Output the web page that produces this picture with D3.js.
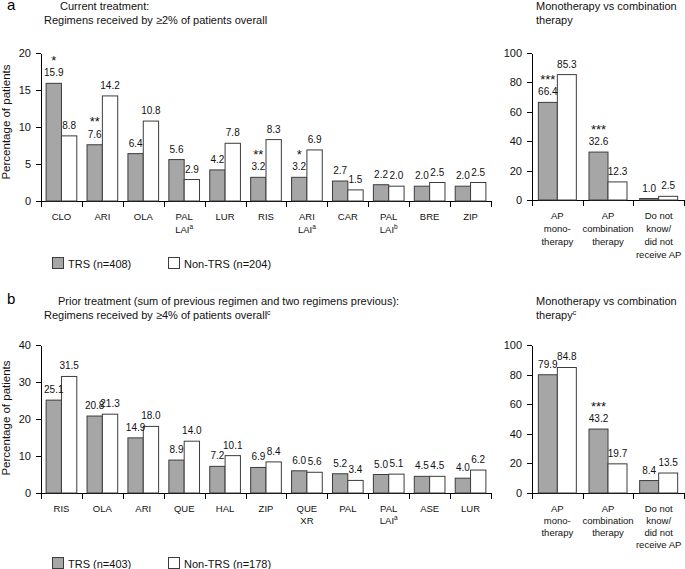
<!DOCTYPE html>
<html>
<head>
<meta charset="utf-8">
<script src="https://cdn.jsdelivr.net/npm/d3@7"></script>
<style>
  body { margin: 0; background: #fff; }
  svg { display: block; font-family: "Liberation Sans", Arial, sans-serif; }
  .axis path, .axis line { stroke: #000; shape-rendering: crispEdges; }
  .axis text { font-size: 11px; fill: #111; }
</style>
</head>
<body>
<svg id="chart" width="685" height="569"></svg>
<script>
'use strict';

// panel a: current treatment
var curCats = ['CLO', 'ARI', 'OLA', 'PAL|LAI^a', 'LUR', 'RIS', 'ARI|LAI^a', 'CAR', 'PAL|LAI^b', 'BRE', 'ZIP'];
var curTrs = [15.9, 7.6, 6.4, 5.6, 4.2, 3.2, 3.2, 2.7, 2.2, 2.0, 2.0];
var curNon = [8.8, 14.2, 10.8, 2.9, 7.8, 8.3, 6.9, 1.5, 2.0, 2.5, 2.5];
var curStars = ['*', '**', '', '', '', '**', '*', '', '', '', ''];

var comboCats = ['AP|mono-|therapy', 'AP|combination|therapy', 'Do not|know/|did not|receive AP'];
var curComboTrs = [66.4, 32.6, 1.0];
var curComboNon = [85.3, 12.3, 2.5];
var curComboStars = ['***', '***', ''];

// panel b: prior treatment
var priorCats = ['RIS', 'OLA', 'ARI', 'QUE', 'HAL', 'ZIP', 'QUE|XR', 'PAL', 'PAL|LAI^a', 'ASE', 'LUR'];
var priorTrs = [25.1, 20.8, 14.9, 8.9, 7.2, 6.9, 6.0, 5.2, 5.0, 4.5, 4.0];
var priorNon = [31.5, 21.3, 18.0, 14.0, 10.1, 8.4, 5.6, 3.4, 5.1, 4.5, 6.2];
var priorStars = ['', '', '', '', '', '', '', '', '', '', ''];

var priorComboTrs = [79.9, 43.2, 8.4];
var priorComboNon = [84.8, 19.7, 13.5];
var priorComboStars = ['', '***', ''];

var legendA = ['TRS (n=408)', 'Non-TRS (n=204)'];
var legendB = ['TRS (n=403)', 'Non-TRS (n=178)'];

var GRAY = '#a6a6a6';
var EDGE = '#3c3c3c';

var svg = d3.select('#chart');

/**
 * Write a text line that may carry a ^superscript.
 */
function richText(sel, str, supSize) {
	var parts = str.split('^');
	sel.append('tspan').text(parts[0]);
	if (parts.length > 1) {
		sel.append('tspan')
			.attr('dy', -4)
			.attr('font-size', supSize)
			.text(parts[1]);
	}
	return sel;
}

/**
 * Draw one grouped bar panel.
 */
function drawPanel(p) {
	var g = svg.append('g');
	var n = p.cats.length;

	var y = d3.scaleLinear().domain([0, p.max]).range([p.bottom, p.top]);
	var x = d3.scaleBand().domain(d3.range(n)).range([p.left, p.right]).padding(0);
	var edge = d3.scaleLinear().domain([0, n]).range([p.left, p.right]);
	var bw = x.bandwidth() * 0.375;
	var off = (x.bandwidth() - 2 * bw) / 2;

	// y axis
	g.append('g')
		.attr('class', 'axis')
		.attr('transform', 'translate(' + p.left + ',0)')
		.call(d3.axisLeft(y).tickValues(d3.range(0, p.max + 1, p.step))
			.tickSize(5).tickSizeOuter(0).tickPadding(5));

	// x axis with ticks between categories
	g.append('g')
		.attr('class', 'axis')
		.attr('transform', 'translate(0,' + p.bottom + ')')
		.call(d3.axisBottom(edge).tickValues(d3.range(0, n + 1))
			.tickFormat('').tickSize(6).tickSizeOuter(0));

	var rows = d3.range(n).map(function(i) {
		return [
			{i: i, k: 0, v: p.trs[i], star: p.stars[i]},
			{i: i, k: 1, v: p.non[i], star: ''}
		];
	});
	var bars = d3.merge(rows);

	g.append('g').selectAll('rect')
		.data(bars)
		.enter()
		.append('rect')
		.attr('x', function(d) { return x(d.i) + off + d.k * bw; })
		.attr('y', function(d) { return y(d.v); })
		.attr('width', bw)
		.attr('height', function(d) { return y(0) - y(d.v); })
		.attr('fill', function(d) { return d.k === 0 ? GRAY : '#fff'; })
		.attr('stroke', EDGE)
		.attr('stroke-width', 1);

	var lab = g.append('g')
		.attr('font-size', 10)
		.attr('text-anchor', 'middle')
		.attr('fill', '#111');

	lab.selectAll('text.val')
		.data(bars)
		.enter()
		.append('text')
		.attr('class', 'val')
		.attr('x', function(d) { return x(d.i) + off + d.k * bw + bw / 2; })
		.attr('y', function(d) { return y(d.v) - 7; })
		.text(function(d) { return d.v.toFixed(1); });

	lab.selectAll('text.star')
		.data(bars.filter(function(d) { return d.star; }))
		.enter()
		.append('text')
		.attr('class', 'star')
		.attr('font-size', 13)
		.attr('x', function(d) { return x(d.i) + off + d.k * bw + bw / 2; })
		.attr('y', function(d) { return y(d.v) - 18.5; })
		.text(function(d) { return d.star; });

	// category labels
	var cl = g.append('g')
		.attr('font-size', 9.5)
		.attr('text-anchor', 'middle')
		.attr('fill', '#111');
	p.cats.forEach(function(c, i) {
		c.split('|').forEach(function(line, j) {
			var t = cl.append('text')
				.attr('x', x(i) + x.bandwidth() / 2)
				.attr('y', p.bottom + 18.5 + j * p.lh);
			richText(t, line, 6.5);
		});
	});

	// y label
	if (p.ylabel) {
		g.append('text')
			.attr('transform', 'translate(10,' + p.ymid + ') rotate(-90)')
			.attr('text-anchor', 'middle')
			.attr('font-size', 11.5)
			.attr('fill', '#111')
			.text(p.ylabel);
	}
	return g;
}

function drawTitle(xPos, yPos, lines) {
	lines.forEach(function(l, j) {
		var t = svg.append('text')
			.attr('x', xPos[j])
			.attr('y', yPos + j * 14)
			.attr('font-size', 11)
			.attr('fill', '#111');
		richText(t, l, 7);
	});
}

function drawLegend(yTop, labels) {
	var xs = [52, 168];
	labels.forEach(function(l, i) {
		svg.append('rect')
			.attr('x', xs[i] + 0.5).attr('y', yTop + 0.5)
			.attr('width', 11).attr('height', 11)
			.attr('fill', i === 0 ? GRAY : '#fff')
			.attr('stroke', EDGE);
		svg.append('text')
			.attr('x', xs[i] + 16).attr('y', yTop + 11)
			.attr('font-size', 11)
			.attr('fill', '#111')
			.text(l);
	});
}

// panel letters
svg.append('text').attr('x', 7).attr('y', 10).attr('font-size', 15).text('a');
svg.append('text').attr('x', 7).attr('y', 304).attr('font-size', 15).text('b');

drawTitle([60, 44], 10, ['Current treatment:', 'Regimens received by \u22652% of patients overall']);
drawTitle([536, 536], 10, ['Monotherapy vs combination', 'therapy']);
drawTitle([58, 44], 305, ['Prior treatment (sum of previous regimen and two regimens previous):',
	'Regimens received by \u22654% of patients overall^c']);
drawTitle([536, 536], 305, ['Monotherapy vs combination', 'therapy^c']);

drawPanel({left: 41, right: 491, top: 53, bottom: 201, max: 20, step: 5, lh: 13,
	cats: curCats, trs: curTrs, non: curNon, stars: curStars,
	ylabel: 'Percentage of patients', ymid: 122});
drawPanel({left: 532, right: 684, top: 53, bottom: 200, max: 100, step: 20, lh: 13,
	cats: comboCats, trs: curComboTrs, non: curComboNon, stars: curComboStars});
drawPanel({left: 41, right: 491, top: 345, bottom: 493, max: 40, step: 10, lh: 12,
	cats: priorCats, trs: priorTrs, non: priorNon, stars: priorStars,
	ylabel: 'Percentage of patients', ymid: 418});
drawPanel({left: 532, right: 684, top: 345, bottom: 493, max: 100, step: 20, lh: 12,
	cats: comboCats, trs: priorComboTrs, non: priorComboNon, stars: priorComboStars});

drawLegend(257, legendA);
drawLegend(557, legendB);
</script>
</body>
</html>
